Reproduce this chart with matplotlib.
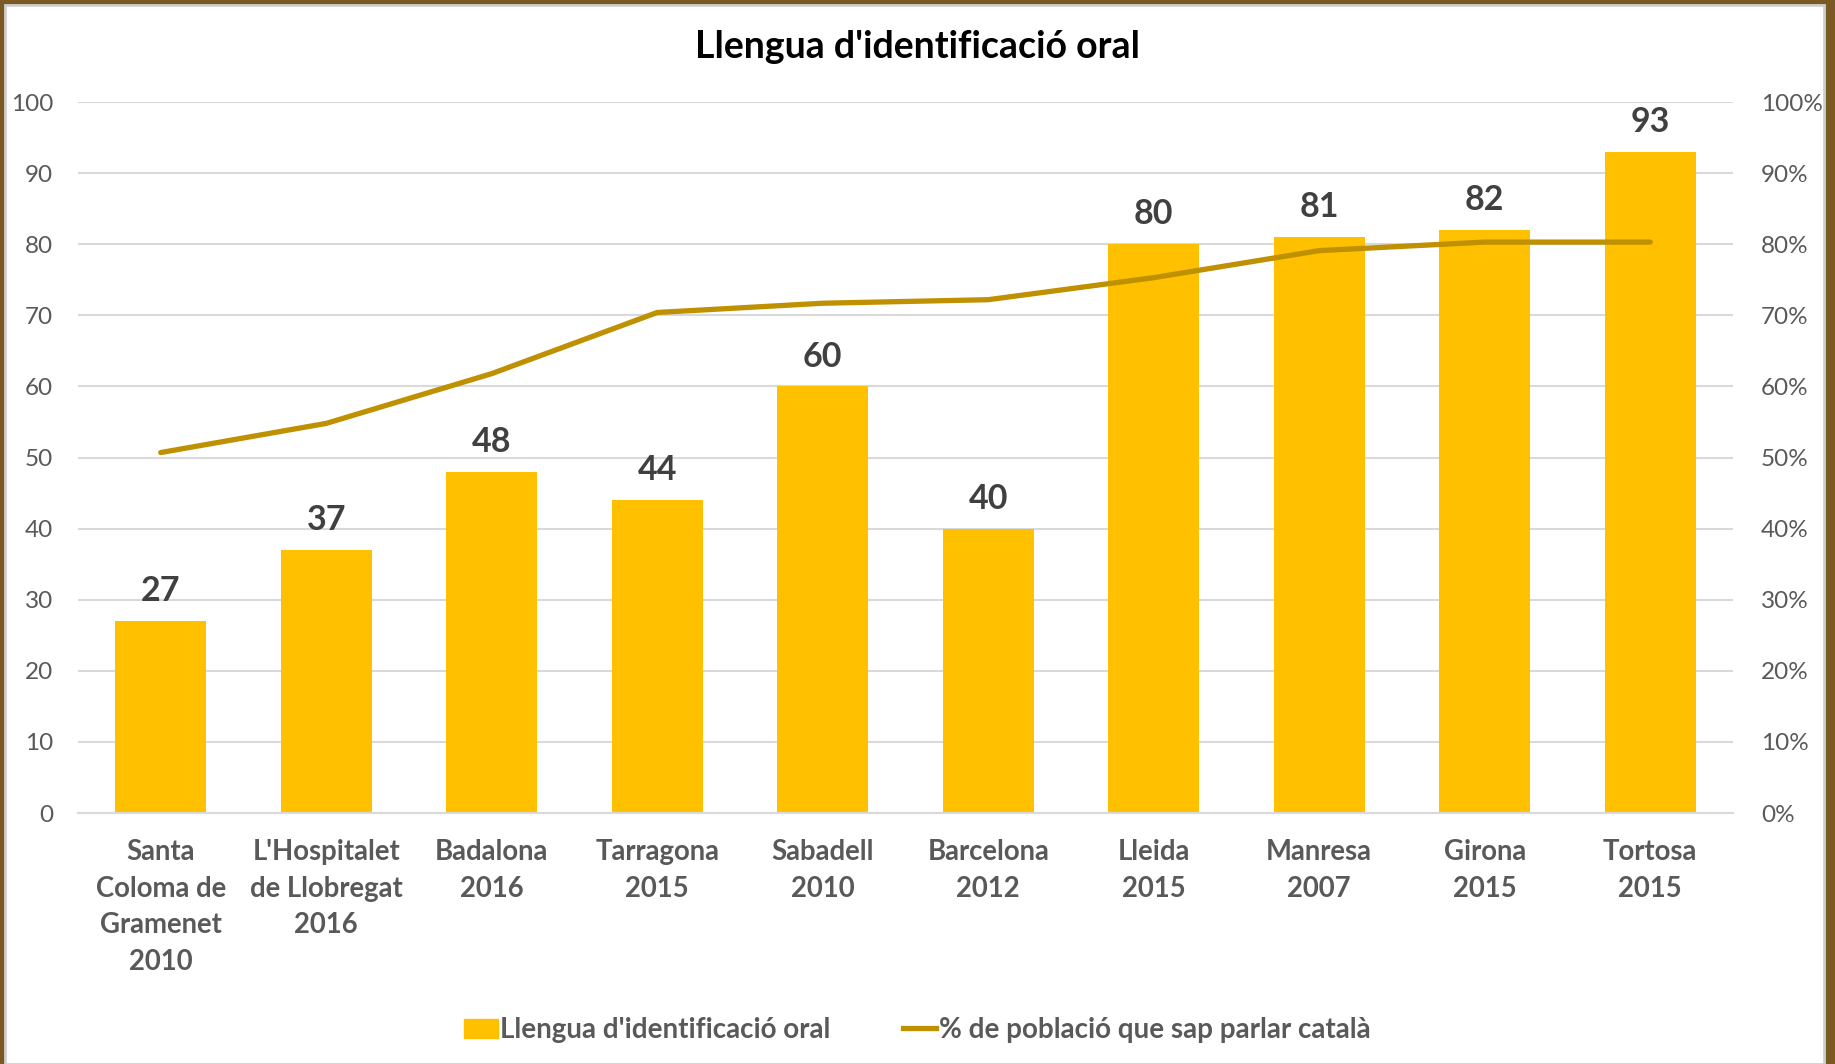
import matplotlib.pyplot as plt
from matplotlib.patches import Rectangle
from matplotlib.lines import Line2D
from matplotlib.ticker import FuncFormatter

plt.rcParams['font.family'] = ['Lato', 'DejaVu Sans']

cities = ["Santa\nColoma de\nGramenet\n2010", "L'Hospitalet\nde Llobregat\n2016", "Badalona\n2016",
          "Tarragona\n2015", "Sabadell\n2010", "Barcelona\n2012", "Lleida\n2015",
          "Manresa\n2007", "Girona\n2015", "Tortosa\n2015"]
oral = [27, 37, 48, 44, 60, 40, 80, 81, 82, 93]
speak_pct = [50.7, 54.8, 61.8, 70.4, 71.7, 72.2, 75.3, 79.1, 80.3, 80.3]

bar_col = '#FFC000'
line_col = '#BF9000'
txt_col = '#595959'
grid_col = '#D9D9D9'

fig = plt.figure(figsize=(18.35, 10.64), dpi=100)
fig.patch.set_facecolor('#7a5a22')
fig.add_artist(Rectangle((5/1835, 0), 1819/1835, 1059/1064, transform=fig.transFigure,
                         facecolor='white', edgecolor='#d0d0d0', lw=2, zorder=0))

ax = fig.add_axes([0.0425, 0.2359, 0.9019, 0.6682])
ax.set_facecolor('none')
x = range(len(cities))
ax.bar(x, oral, width=0.55, color=bar_col, zorder=2)
for i, v in enumerate(oral):
    ax.annotate(str(v), (i, v), xytext=(0, 10), textcoords='offset points', ha='center', va='bottom',
                fontsize=24.5, fontweight='bold', color='#404040')

ax.set_xlim(-0.5, 9.5)
ax.set_ylim(0, 100)
ax.set_yticks(range(0, 101, 10))
ax.grid(axis='y', color=grid_col, lw=1.5, zorder=0)
ax.set_axisbelow(True)
for s in ['top', 'right', 'left']:
    ax.spines[s].set_visible(False)
ax.spines['bottom'].set_color(grid_col)
ax.spines['bottom'].set_linewidth(1.5)
ax.set_xticks(list(x))
ax.set_xticklabels(cities, fontsize=19.8, fontweight='bold', color=txt_col, linespacing=1.5)
ax.tick_params(axis='x', length=0, pad=19)
ax.tick_params(axis='y', length=0, pad=18, labelsize=17.5, labelcolor=txt_col)

ax2 = ax.twinx()
ax2.plot(x, speak_pct, color=line_col, lw=3.8, solid_capstyle='round', zorder=3)
ax2.set_ylim(0, 100)
ax2.set_yticks(range(0, 101, 10))
ax2.yaxis.set_major_formatter(FuncFormatter(lambda v, p: f"{int(v)}%"))
ax2.tick_params(axis='y', length=0, pad=20, labelsize=17.5, labelcolor=txt_col)
for s in ax2.spines.values():
    s.set_visible(False)

fig.text(0.5, 0.956, "Llengua d'identificació oral", ha='center', va='center',
         fontsize=27, fontweight='bold', color='black')

handles = [Rectangle((0, 0), 1, 1, color=bar_col),
           Line2D([0], [0], color=line_col, lw=3.8)]
labels = ["Llengua d'identificació oral", "% de població que sap parlar català"]
fig.legend(handles, labels, loc='center', bbox_to_anchor=(0.5, 0.032), ncol=2, frameon=False,
           prop={'size': 20, 'weight': 'bold'}, labelcolor=txt_col, handlelength=1.2,
           handletextpad=0.1, columnspacing=2.6)

fig.savefig('out.png', dpi=100)
